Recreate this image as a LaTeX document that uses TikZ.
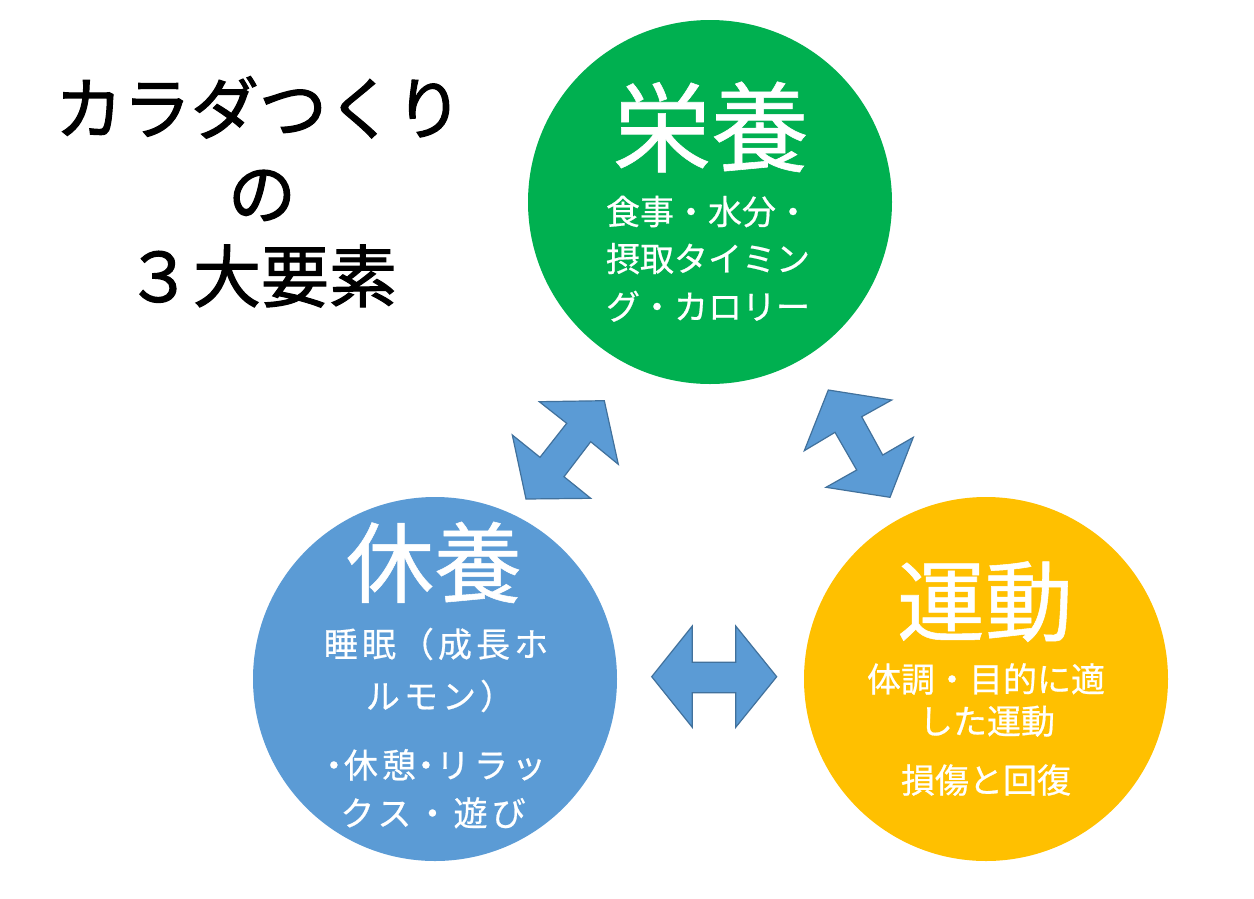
\documentclass[tikz,border=0pt]{standalone}
\usepackage{fontspec}
\setmainfont{Noto Sans CJK JP}
\newfontfamily\jptitle[FakeBold=1.6]{Noto Sans CJK JP}
\newfontfamily\jpwhite[FakeBold=0.6]{Noto Sans CJK JP}
\newfontfamily\jpwide[LetterSpace=12,FakeBold=0.6]{Noto Sans CJK JP}
\definecolor{cgreen}{HTML}{00B050}
\definecolor{cblue}{HTML}{5B9BD5}
\definecolor{corange}{HTML}{FFC000}
\definecolor{carrowline}{HTML}{41719C}
\begin{document}
\begin{tikzpicture}[x=1pt,y=-1pt,
  circ/.style={circle, draw=none, inner sep=0pt, minimum size=364pt},
  bigA/.style={anchor=base, inner sep=0pt, text=white, font=\jpwhite\fontsize{98}{98}\selectfont, yshift=-37.2pt},
  bigB/.style={anchor=base, inner sep=0pt, text=white, font=\jpwhite\fontsize{88}{88}\selectfont, yshift=-33.4pt},
  subline/.style={anchor=base, inner sep=0pt, text=white, font=\jpwhite\fontsize{34}{34}\selectfont, yshift=-12.9pt},
  subwide/.style={subline, font=\jpwide\fontsize{34}{34}\selectfont},
  titleline/.style={anchor=base, inner sep=0pt, text=black, font=\jptitle\fontsize{68}{68}\selectfont, yshift=-25.8pt},
  arrowshape/.style={fill=cblue, draw=carrowline, line width=1.2pt, line join=miter}]
\useasboundingbox (0,0) rectangle (1254,898);
\fill[white] (0,0) rectangle (1254,898);

% title
\node[titleline] (t1) at (259,108) {カラダつくり};
\node[titleline] (t2) at (262,193) {の};
\node[titleline] (t3) at (261,276) {３大要素};

% circles
\node[circ, fill=cgreen] (eiyo) at (710,202) {};
\node[circ, fill=cblue] (kyuyo) at (435,679) {};
\node[circ, fill=corange] (undo) at (986,679) {};

% green text
\node[bigA] (eiyoT) at (711,127) {栄養};
\node[subline] (e1) at (708,211.5) {食事・水分・};
\node[subline] (e2) at (708,258.5) {摂取タイミン};
\node[subline] (e3) at (708,306.5) {グ・カロリー};

% blue text
\node[bigB] (kyuyoT) at (434,562.5) {休養};
\node[subwide] (k1) at (436,644) {睡眠（成長ホ};
\node[subwide] (k2) at (440,696) {ルモン）};
\node[subwide] (k3) at (435,765) {\makebox[20pt]{・}休憩\makebox[20pt]{・}リラッ};
\node[subwide] (k4) at (433,813) {クス・遊び};

% orange text
\node[bigB] (undoT) at (985,601) {運動};
\node[subline] (u1) at (986,679) {体調・目的に適};
\node[subline] (u2) at (987,721) {した運動};
\node[subline] (u3) at (986,780) {損傷と回復};

% arrows
\draw[arrowshape] (539.3,401.7) -- (604.3,400.7) -- (618.3,464.3) -- (590.7,441.7) -- (564,476.7) -- (590.7,498.3) -- (526,499) -- (512.3,435) -- (540,457.3) -- (566.7,423.3) -- cycle;
\draw[arrowshape] (828.3,390) -- (891.7,400) -- (861.7,416.7) -- (882.7,455) -- (913.3,437.3) -- (890,497.3) -- (826,487.3) -- (856.7,470) -- (835,432.3) -- (804.3,450.7) -- cycle;
\draw[arrowshape] (651.7,676.7) -- (692.3,626) -- (692.3,662.3) -- (735.7,662.3) -- (735.7,626) -- (776.7,676.7) -- (735.7,727.3) -- (735.7,692.7) -- (692.3,692.7) -- (692.3,727.3) -- cycle;
\end{tikzpicture}
\end{document}
